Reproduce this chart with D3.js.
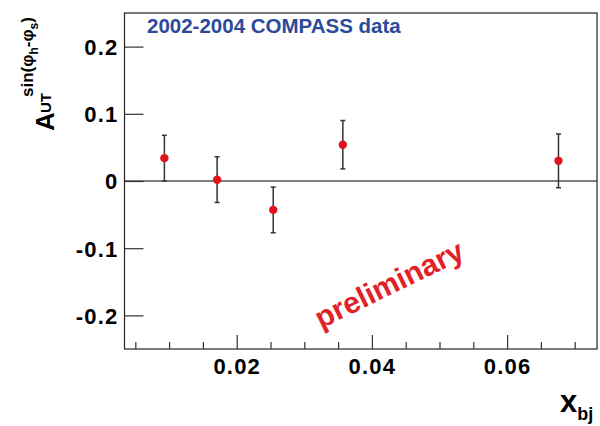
<!DOCTYPE html>
<html><head><meta charset="utf-8">
<script src="https://cdn.jsdelivr.net/npm/d3@7"></script>
<style>body{margin:0;background:#fff}svg{display:block}</style>
</head><body>
<script>
const xbj = [0.0093, 0.0171, 0.0254, 0.0357, 0.0676];
const asym = [0.034, 0.002, -0.043, 0.054, 0.030];
const errs = [0.034, 0.034, 0.034, 0.036, 0.040];
const xMajor = [0.02, 0.04, 0.06];
const xMinor = [0.005, 0.01, 0.015, 0.025, 0.03, 0.035, 0.045, 0.05, 0.055, 0.065, 0.07];
const yMajor = [-0.2, -0.1, 0, 0.1, 0.2];
const yLabels = ["-0.2", "-0.1", "0", "0.1", "0.2"];

const W = 600, H = 426;
const L = 124.5, R = 597, T = 13, B = 349;
const svg = d3.select("body").append("svg").attr("width", W).attr("height", H);
const x = d3.scaleLinear().domain([0.0034, 0.0733]).range([L, R]);
const y = d3.scaleLinear().domain([-0.25, 0.25]).range([B, T]);
const font = "'Liberation Sans', Arial, sans-serif";

// zero line
svg.append("line").attr("x1", L).attr("x2", R).attr("y1", y(0)).attr("y2", y(0))
  .attr("stroke", "#555").attr("stroke-width", 1.6);

// frame
svg.append("rect").attr("x", L).attr("y", T).attr("width", R - L).attr("height", B - T)
  .attr("fill", "none").attr("stroke", "#222").attr("stroke-width", 1.2);

// x axis ticks
const xAxisMaj = d3.axisBottom(x).tickValues(xMajor).tickSize(-14).tickFormat(d3.format(".2f"));
const gx = svg.append("g").attr("transform", `translate(0,${B})`).call(xAxisMaj);
gx.select(".domain").remove();
gx.selectAll(".tick line").attr("stroke", "#333").attr("stroke-width", 1.2);
gx.selectAll(".tick text").attr("fill", "#000").attr("font-family", font).attr("font-weight", "bold")
  .attr("font-size", 22).attr("letter-spacing", 1.2).attr("dy", 0).attr("y", 25);
const gxm = svg.append("g").attr("transform", `translate(0,${B})`)
  .call(d3.axisBottom(x).tickValues(xMinor).tickSize(-7).tickFormat(""));
gxm.select(".domain").remove();
gxm.selectAll(".tick line").attr("stroke", "#333").attr("stroke-width", 1.2);

// y axis ticks
const gy = svg.append("g").attr("transform", `translate(${L},0)`)
  .call(d3.axisLeft(y).tickValues(yMajor).tickSize(-19).tickFormat((d, i) => yLabels[i]));
gy.select(".domain").remove();
gy.selectAll(".tick line").attr("stroke", "#333").attr("stroke-width", 1.2);
gy.selectAll(".tick text").attr("fill", "#000").attr("font-family", font).attr("font-weight", "bold")
  .attr("font-size", 22).attr("letter-spacing", 1.2).attr("x", -6).attr("dy", "0.36em");

// error bars
const pts = xbj.map((v, i) => ({x: v, y: asym[i], e: errs[i]}));
const eb = svg.append("g").attr("stroke", "#333").attr("stroke-width", 1.5);
pts.forEach(p => {
  eb.append("line").attr("x1", x(p.x)).attr("x2", x(p.x)).attr("y1", y(p.y - p.e)).attr("y2", y(p.y + p.e));
  [p.y - p.e, p.y + p.e].forEach(v => eb.append("line").attr("x1", x(p.x) - 2.5).attr("x2", x(p.x) + 2.5)
    .attr("y1", y(v)).attr("y2", y(v)));
});
svg.append("g").selectAll("circle").data(pts).join("circle")
  .attr("cx", d => x(d.x)).attr("cy", d => y(d.y)).attr("r", 4.2).attr("fill", "#e0141c");

// title
svg.append("text").attr("x", 147).attr("y", 33).attr("font-family", font).attr("font-weight", "bold")
  .attr("font-size", 20.5).attr("fill", "#2c4a9b").text("2002-2004 COMPASS data");

// preliminary
svg.append("text").attr("transform", "translate(389,284) rotate(-26)").attr("text-anchor", "middle")
  .attr("dy", "0.35em").attr("font-family", font).attr("font-weight", "bold").attr("font-size", 30)
  .attr("fill", "#e32228").text("preliminary");

// x label
const xl = svg.append("text").attr("x", 560).attr("y", 412).attr("font-family", font).attr("font-weight", "bold").attr("fill", "#000");
xl.append("tspan").attr("font-size", 31).text("x");
xl.append("tspan").attr("font-size", 18).attr("dy", 8).text("bj");

// y label (rotated, reads upward)
const ylab = svg.append("g").attr("transform", "matrix(0,-1,1,0,0,0)")
  .attr("font-family", font).attr("font-weight", "bold").attr("fill", "#000");
ylab.append("text").attr("x", -131).attr("y", 54).attr("font-size", 26).text("A");
ylab.append("text").attr("x", -113).attr("y", 51).attr("font-size", 15).text("UT");
const sup = ylab.append("text").attr("x", -97).attr("y", 33).attr("font-size", 17);
sup.append("tspan").text("sin(φ");
sup.append("tspan").attr("font-size", 12).attr("dy", 5).text("h");
sup.append("tspan").attr("dy", -5).text("-φ");
sup.append("tspan").attr("font-size", 12).attr("dy", 5).text("s");
sup.append("tspan").attr("dy", -5).text(")");
</script>
</body></html>
